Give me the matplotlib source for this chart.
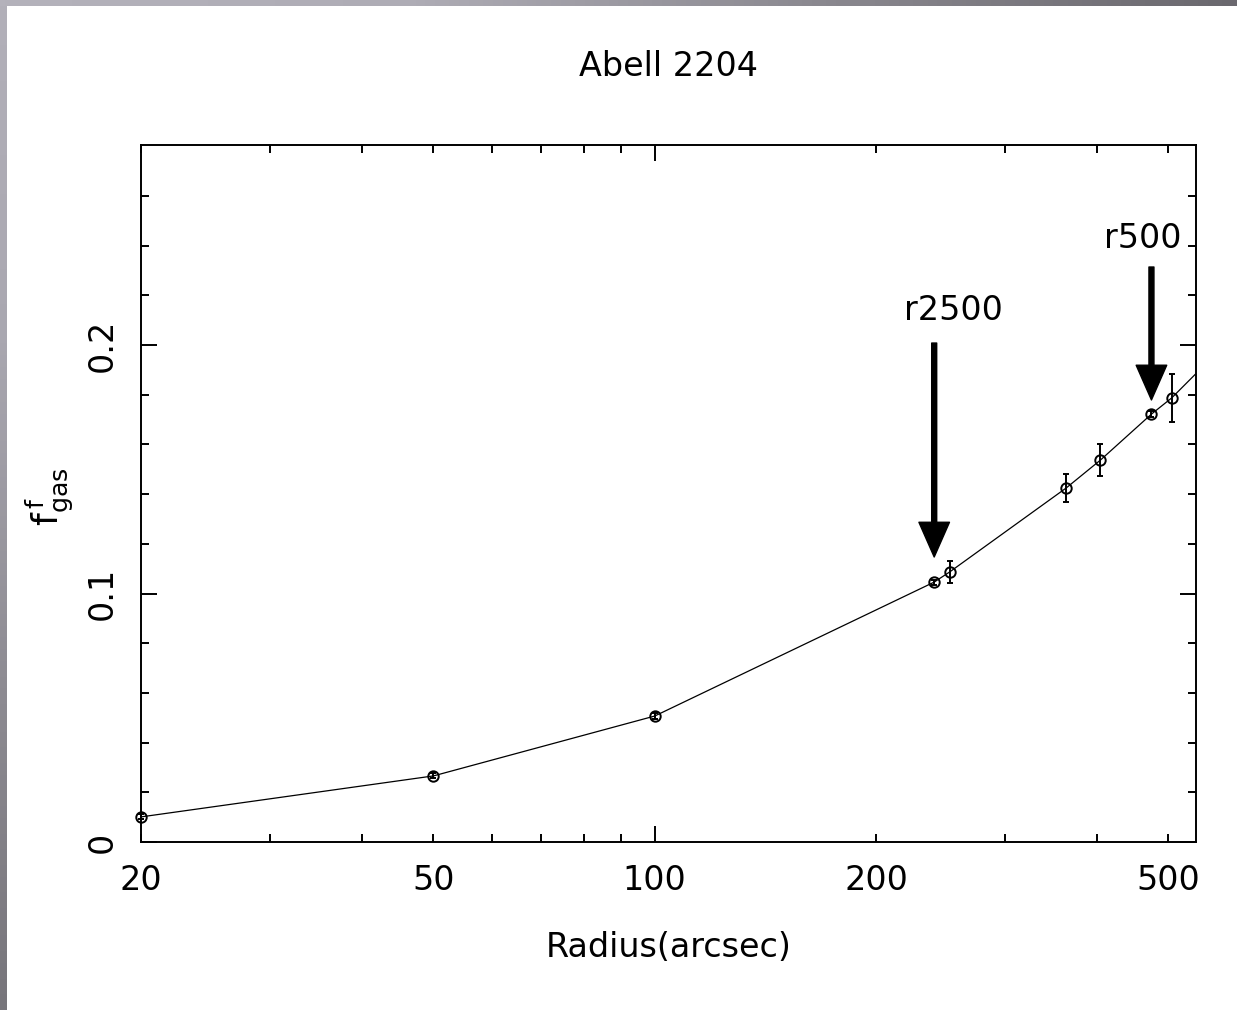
import matplotlib.pyplot as plt
import numpy as np
from matplotlib.colors import LinearSegmentedColormap
from matplotlib.ticker import FixedLocator, FuncFormatter

# Gas fraction profile of Abell 2204
radius = [20, 50, 100, 240, 252, 363, 404, 474, 505, 560]   # arcsec
fgas = [0.0101, 0.0266, 0.0507, 0.1046, 0.1087, 0.1425, 0.1537, 0.1722, 0.1787, 0.192]
fgas_err = [0.001, 0.001, 0.0012, 0.001, 0.0044, 0.0056, 0.0065, 0.0012, 0.0097, 0.012]

# Characteristic radii marked with arrows
marker_names = ['r2500', 'r500']
marker_radius = [240, 474]
arrow_tip = [0.1147, 0.1779]
arrow_tail = [0.2008, 0.2314]
label_pos = [(255, 0.214), (461, 0.2427)]

X_MIN, X_MAX = 20, 545
Y_MAX = 0.2805

plt.rcParams['font.family'] = 'DejaVu Sans'
plt.rcParams['mathtext.fontset'] = 'dejavusans'

fig = plt.figure(figsize=(12.37, 10.10), dpi=100)
fig.patch.set_facecolor('white')

# Grey slide frame along the top and left edges
frame_top = LinearSegmentedColormap.from_list('ft', ['#b4b2bb', '#aeacb5', '#8a888f', '#6a686e'])
frame_left = LinearSegmentedColormap.from_list('fl', ['#b2b0b9', '#a9a7b0', '#8e8c93', '#77757b'])
top = fig.add_axes([0, 1 - 6 / 1010, 1, 6 / 1010])
top.imshow(np.linspace(0, 1, 256)[None, :], cmap=frame_top, aspect='auto',
           extent=[0, 1, 0, 1])
top.axis('off')
left = fig.add_axes([0, 0, 7 / 1237, 1 - 6 / 1010])
left.imshow(np.linspace(0, 1, 256)[:, None], cmap=frame_left, aspect='auto',
            extent=[0, 1, 0, 1])
left.axis('off')

ax = fig.add_axes([141 / 1237, 168 / 1010, 1055 / 1237, 697 / 1010])
ax.set_xscale('log')
ax.set_xlim(X_MIN, X_MAX)
ax.set_ylim(0, Y_MAX)

r = np.array(radius)
f = np.array(fgas)
e = np.array(fgas_err)
inside = r <= X_MAX

ax.plot(r, f, color='black', lw=0.9)
ax.errorbar(r[inside], f[inside], yerr=e[inside], fmt='o', mfc='none', mec='black',
            ms=7.5, mew=1.4, ecolor='black', elinewidth=1.4, capsize=2.5,
            capthick=1.4, clip_on=False)

for name, xr, tip, tail, (tx, ty) in zip(marker_names, marker_radius, arrow_tip,
                                         arrow_tail, label_pos):
    ax.annotate('', xy=(xr, tip), xytext=(xr, tail),
                arrowprops=dict(facecolor='black', edgecolor='black', width=3.6,
                                headwidth=22, headlength=25, shrink=0))
    ax.text(tx, ty, name, ha='center', va='center', fontsize=24)

# Axis ticks: long at decades and tenths, short in between
ax.xaxis.set_major_locator(FixedLocator([100]))
ax.xaxis.set_minor_locator(FixedLocator([20, 30, 40, 50, 60, 70, 80, 90,
                                         200, 300, 400, 500]))
shown = {20, 50, 200, 500}
ax.xaxis.set_major_formatter(FuncFormatter(lambda v, p: f'{v:g}'))
ax.xaxis.set_minor_formatter(FuncFormatter(lambda v, p: f'{v:g}' if round(v) in shown else ''))

ax.yaxis.set_major_locator(FixedLocator([0, 0.1, 0.2]))
ax.yaxis.set_minor_locator(FixedLocator(np.arange(0.02, 0.28, 0.02)))
ax.yaxis.set_major_formatter(FuncFormatter(lambda v, p: f'{v:g}'))

ax.tick_params(which='both', direction='in', top=True, right=True,
               width=1.4, labelsize=24, pad=16)
ax.tick_params(which='major', length=11.5)
ax.tick_params(which='minor', length=5.8)
ax.tick_params(axis='y', which='both', labelrotation=90)
for lab in ax.get_yticklabels():
    lab.set_va('center')

for s in ax.spines.values():
    s.set_linewidth(1.4)

ax.set_title('Abell 2204', fontsize=24, pad=50)
ax.set_xlabel('Radius(arcsec)', fontsize=24)
ax.xaxis.set_label_coords(0.5, -0.128)
ax.set_ylabel(r'$\mathrm{f}^{\,\mathrm{f}}_{\mathrm{gas}}$', fontsize=26)
ax.yaxis.set_label_coords(-0.062, 0.495)

fig.savefig('out.png', dpi=100)
